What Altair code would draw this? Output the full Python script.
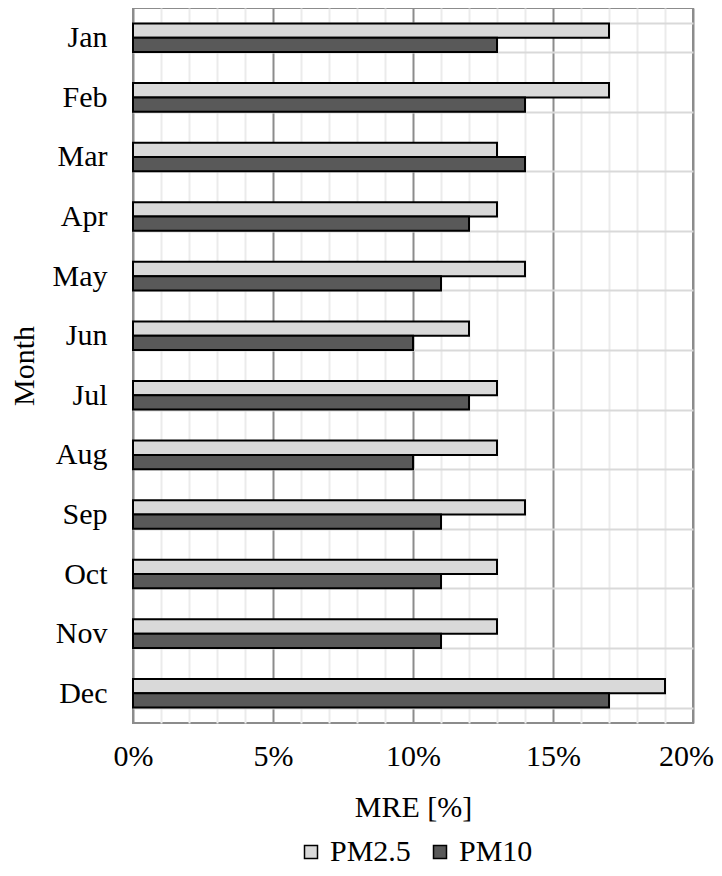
import altair as alt
import pandas as pd

months = ["Jan", "Feb", "Mar", "Apr", "May", "Jun", "Jul", "Aug", "Sep", "Oct", "Nov", "Dec"]
pm25 = [17, 17, 13, 13, 14, 12, 13, 13, 14, 13, 13, 19]
pm10 = [13, 14, 14, 12, 11, 10, 12, 10, 11, 11, 11, 17]
series = ["PM2.5", "PM10"]
colors = ["#d9d9d9", "#595959"]
x_ticks = list(range(0, 21))

rows = []
for m, a, b in zip(months, pm25, pm10):
    rows.append({"Month": m, "Series": "PM2.5", "MRE": a})
    rows.append({"Month": m, "Series": "PM10", "MRE": b})
df = pd.DataFrame(rows)

FONT = "Liberation Serif"

chart = alt.Chart(df).mark_bar(stroke="black", strokeWidth=2).encode(
    x=alt.X(
        "MRE:Q",
        title="MRE [%]",
        scale=alt.Scale(domain=[0, 20], nice=False, zero=True),
        axis=alt.Axis(
            values=x_ticks,
            labelExpr="datum.value % 5 === 0 ? datum.value + '%' : ''",
            labelFlush=False,
            labelOverlap=False,
            labelBound=False,
            labelOffset=alt.condition("datum.value === 20", alt.value(-7), alt.value(0)),
            ticks=False,
            tickSize=0,
            domain=False,
            grid=True,
            gridColor=alt.condition("datum.value % 5 === 0", alt.value("#8c8c8c"), alt.value("#ebebeb")),
            gridWidth=2,
            labelPadding=18,
            titlePadding=21,
            labelFont=FONT,
            titleFont=FONT,
            labelFontSize=30,
            titleFontSize=30,
            titleFontWeight="normal",
            labelColor="black",
            titleColor="black",
        ),
    ),
    y=alt.Y(
        "Month:N",
        sort=months,
        title="Month",
        scale=alt.Scale(paddingInner=0.52, paddingOuter=0.26),
        axis=alt.Axis(
            ticks=False,
            tickSize=0,
            domain=False,
            grid=True,
            tickBand="extent",
            gridColor="#d9d9d9",
            gridWidth=2,
            labelPadding=26,
            titlePadding=13,
            labelFont=FONT,
            titleFont=FONT,
            labelFontSize=30,
            titleFontSize=30,
            titleFontWeight="normal",
            labelColor="black",
            titleColor="black",
        ),
    ),
    yOffset=alt.YOffset("Series:N", sort=series),
    color=alt.Color(
        "Series:N",
        sort=series,
        scale=alt.Scale(domain=series, range=colors),
        legend=alt.Legend(
            title=None,
            orient="none",
            direction="horizontal",
            legendX=163,
            legendY=829,
            padding=0,
            symbolType="square",
            symbolSize=169,
            symbolStrokeColor="black",
            symbolStrokeWidth=1.5,
            labelFont=FONT,
            labelFontSize=30,
            labelColor="black",
            labelOffset=4,
            columnPadding=14,
        ),
    ),
).properties(
    width=560,
    height=715,
    autosize=alt.AutoSizeParams(type="none"),
    padding={"left": 125, "top": 0, "right": 21, "bottom": 145},
).configure_view(
    stroke="#8c8c8c",
    strokeWidth=2,
)

chart.save("out.html", embed_options={"renderer": "svg", "actions": False})
